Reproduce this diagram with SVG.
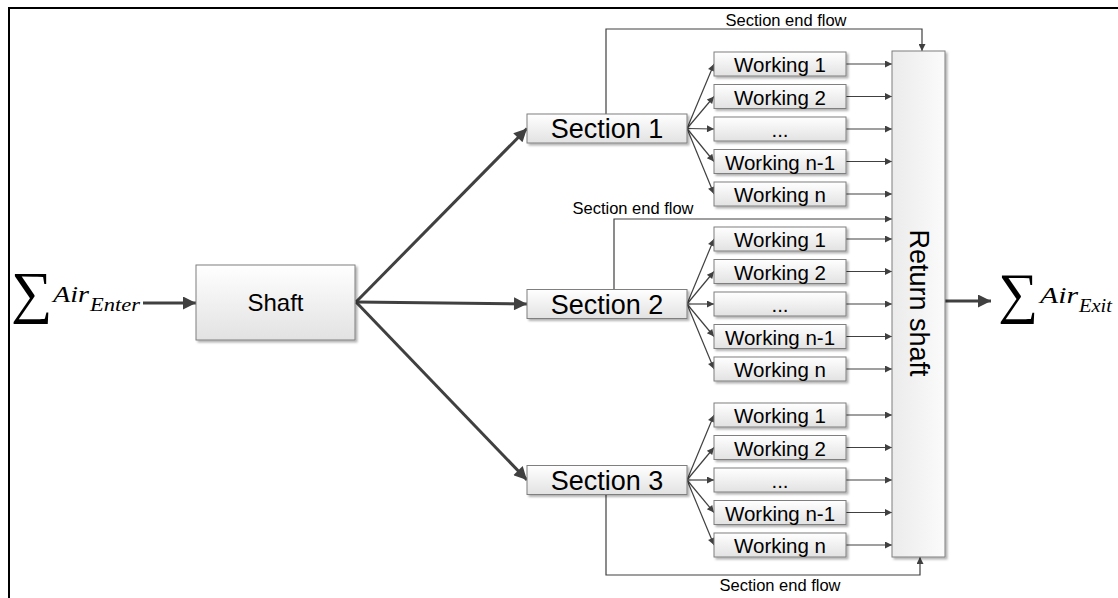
<svg xmlns="http://www.w3.org/2000/svg" width="1118" height="598" viewBox="0 0 1118 598">
<defs>
<linearGradient id="gBox" x1="0" y1="0" x2="0" y2="1">
<stop offset="0" stop-color="#ffffff"/>
<stop offset="1" stop-color="#e2e2e2"/>
</linearGradient>
<linearGradient id="gRet" x1="0" y1="0" x2="1" y2="0">
<stop offset="0" stop-color="#ebebeb"/>
<stop offset="1" stop-color="#fbfbfb"/>
</linearGradient>
<filter id="sh" x="-10%" y="-10%" width="130%" height="140%">
<feDropShadow dx="2" dy="2" stdDeviation="0.8" flood-color="#000" flood-opacity="0.3"/>
</filter>
<marker id="aT" viewBox="0 0 10 10" refX="10" refY="5" markerWidth="9" markerHeight="7" markerUnits="userSpaceOnUse" orient="auto">
<path d="M0,0 L10,5 L0,10 z" fill="#404040"/>
</marker>
<marker id="aB" viewBox="0 0 10 10" refX="10" refY="5" markerWidth="18" markerHeight="13" markerUnits="userSpaceOnUse" orient="auto">
<path d="M0,0 L10,5 L0,10 z" fill="#404040"/>
</marker>
</defs>
<style>
.box{fill:url(#gBox);stroke:#7f7f7f;stroke-width:1;filter:url(#sh)}
.ret{fill:url(#gRet);stroke:#7f7f7f;stroke-width:1;filter:url(#sh)}
.t{font-family:"Liberation Sans",Arial,sans-serif;fill:#000;text-anchor:middle;dominant-baseline:central}
.sec{font-size:27px}
.wk{font-size:20.5px}
.lbl{font-family:"Liberation Sans",Arial,sans-serif;font-size:16.5px;fill:#000;text-anchor:middle}
.thin{fill:none;stroke:#404040;stroke-width:1.2;marker-end:url(#aT)}
.thick{fill:none;stroke:#404040;stroke-width:3;marker-end:url(#aB)}
.m{font-family:"Liberation Serif","DejaVu Serif",serif;fill:#000}
.mi{font-family:"Liberation Serif","DejaVu Serif",serif;font-style:italic;fill:#000}
</style>
<rect width="1118" height="598" fill="#ffffff"/>
<path d="M9,598 L9,8 L1118,8" fill="none" stroke="#000" stroke-width="2"/>

<g id="connectors">
<line class="thick" x1="143" y1="303" x2="196" y2="303"/>
<line class="thick" x1="356" y1="302" x2="527" y2="128.5"/>
<line class="thick" x1="356" y1="302" x2="527" y2="304"/>
<line class="thick" x1="356" y1="302" x2="527" y2="480"/>
<line class="thin" x1="687" y1="128.5" x2="714" y2="64"/>
<line class="thin" x1="687" y1="128.5" x2="714" y2="96.5"/>
<line class="thin" x1="687" y1="128.5" x2="714" y2="129"/>
<line class="thin" x1="687" y1="128.5" x2="714" y2="161.5"/>
<line class="thin" x1="687" y1="128.5" x2="714" y2="194"/>
<line class="thin" x1="687" y1="304" x2="714" y2="239"/>
<line class="thin" x1="687" y1="304" x2="714" y2="271.5"/>
<line class="thin" x1="687" y1="304" x2="714" y2="304"/>
<line class="thin" x1="687" y1="304" x2="714" y2="336.5"/>
<line class="thin" x1="687" y1="304" x2="714" y2="369"/>
<line class="thin" x1="687" y1="480" x2="714" y2="415"/>
<line class="thin" x1="687" y1="480" x2="714" y2="447.5"/>
<line class="thin" x1="687" y1="480" x2="714" y2="480"/>
<line class="thin" x1="687" y1="480" x2="714" y2="512.5"/>
<line class="thin" x1="687" y1="480" x2="714" y2="545"/>
<line class="thin" x1="846" y1="64" x2="892" y2="64"/>
<line class="thin" x1="846" y1="96.5" x2="892" y2="96.5"/>
<line class="thin" x1="846" y1="129" x2="892" y2="129"/>
<line class="thin" x1="846" y1="161.5" x2="892" y2="161.5"/>
<line class="thin" x1="846" y1="194" x2="892" y2="194"/>
<line class="thin" x1="846" y1="239" x2="892" y2="239"/>
<line class="thin" x1="846" y1="271.5" x2="892" y2="271.5"/>
<line class="thin" x1="846" y1="304" x2="892" y2="304"/>
<line class="thin" x1="846" y1="336.5" x2="892" y2="336.5"/>
<line class="thin" x1="846" y1="369" x2="892" y2="369"/>
<line class="thin" x1="846" y1="415" x2="892" y2="415"/>
<line class="thin" x1="846" y1="447.5" x2="892" y2="447.5"/>
<line class="thin" x1="846" y1="480" x2="892" y2="480"/>
<line class="thin" x1="846" y1="512.5" x2="892" y2="512.5"/>
<line class="thin" x1="846" y1="545" x2="892" y2="545"/>
<polyline class="thin" points="606,114 606,29 922,29 922,51"/>
<polyline class="thin" points="614,289.5 614,219 892,219"/>
<polyline class="thin" points="606,494.5 606,575 920,575 920,557"/>
<line class="thick" x1="945" y1="301" x2="991" y2="301"/>
<text class="lbl" x="786" y="26">Section end flow</text>
<text class="lbl" x="633" y="214">Section end flow</text>
<text class="lbl" x="780" y="591">Section end flow</text>
</g>

<g id="enter">
<text class="m" x="11" y="312" font-size="58">∑</text>
<text class="mi" x="53" y="302" font-size="24" textLength="36" lengthAdjust="spacingAndGlyphs">Air</text>
<text class="mi" x="90" y="311" font-size="18" textLength="50" lengthAdjust="spacingAndGlyphs">Enter</text>
</g>

<g id="shaft">
<rect class="box" x="196" y="265" width="159" height="75"/>
<text class="t" x="275.5" y="302.5" font-size="24">Shaft</text>
</g>

<g id="section1">
<rect class="box" x="527" y="114" width="160" height="29"/>
<text class="t sec" x="607" y="129">Section 1</text>
</g>
<g id="section2">
<rect class="box" x="527" y="289.5" width="160" height="29"/>
<text class="t sec" x="607" y="304.5">Section 2</text>
</g>
<g id="section3">
<rect class="box" x="527" y="465.5" width="160" height="29"/>
<text class="t sec" x="607" y="480.5">Section 3</text>
</g>

<g id="s1w1"><rect class="box" x="714" y="52" width="132" height="24"/><text class="t wk" x="780" y="64.5">Working 1</text></g>
<g id="s1w2"><rect class="box" x="714" y="84.5" width="132" height="24"/><text class="t wk" x="780" y="97">Working 2</text></g>
<g id="s1w3"><rect class="box" x="714" y="117" width="132" height="24"/><text class="t wk" x="780" y="129.5">...</text></g>
<g id="s1w4"><rect class="box" x="714" y="149.5" width="132" height="24"/><text class="t wk" x="780" y="162">Working n-1</text></g>
<g id="s1w5"><rect class="box" x="714" y="182" width="132" height="24"/><text class="t wk" x="780" y="194.5">Working n</text></g>

<g id="s2w1"><rect class="box" x="714" y="227" width="132" height="24"/><text class="t wk" x="780" y="239.5">Working 1</text></g>
<g id="s2w2"><rect class="box" x="714" y="259.5" width="132" height="24"/><text class="t wk" x="780" y="272">Working 2</text></g>
<g id="s2w3"><rect class="box" x="714" y="292" width="132" height="24"/><text class="t wk" x="780" y="304.5">...</text></g>
<g id="s2w4"><rect class="box" x="714" y="324.5" width="132" height="24"/><text class="t wk" x="780" y="337">Working n-1</text></g>
<g id="s2w5"><rect class="box" x="714" y="357" width="132" height="24"/><text class="t wk" x="780" y="369.5">Working n</text></g>

<g id="s3w1"><rect class="box" x="714" y="403" width="132" height="24"/><text class="t wk" x="780" y="415.5">Working 1</text></g>
<g id="s3w2"><rect class="box" x="714" y="435.5" width="132" height="24"/><text class="t wk" x="780" y="448">Working 2</text></g>
<g id="s3w3"><rect class="box" x="714" y="468" width="132" height="24"/><text class="t wk" x="780" y="480.5">...</text></g>
<g id="s3w4"><rect class="box" x="714" y="500.5" width="132" height="24"/><text class="t wk" x="780" y="513">Working n-1</text></g>
<g id="s3w5"><rect class="box" x="714" y="533" width="132" height="24"/><text class="t wk" x="780" y="545.5">Working n</text></g>

<g id="returnshaft">
<rect class="ret" x="892" y="51" width="53" height="506"/>
<text class="t" x="0" y="0" font-size="27" transform="translate(919,303) rotate(90)">Return shaft</text>
</g>

<g id="exit">
<text class="m" x="998" y="312" font-size="56">∑</text>
<text class="mi" x="1040" y="303" font-size="24" textLength="38" lengthAdjust="spacingAndGlyphs">Air</text>
<text class="mi" x="1079" y="312" font-size="18" textLength="33" lengthAdjust="spacingAndGlyphs">Exit</text>
</g>
</svg>
